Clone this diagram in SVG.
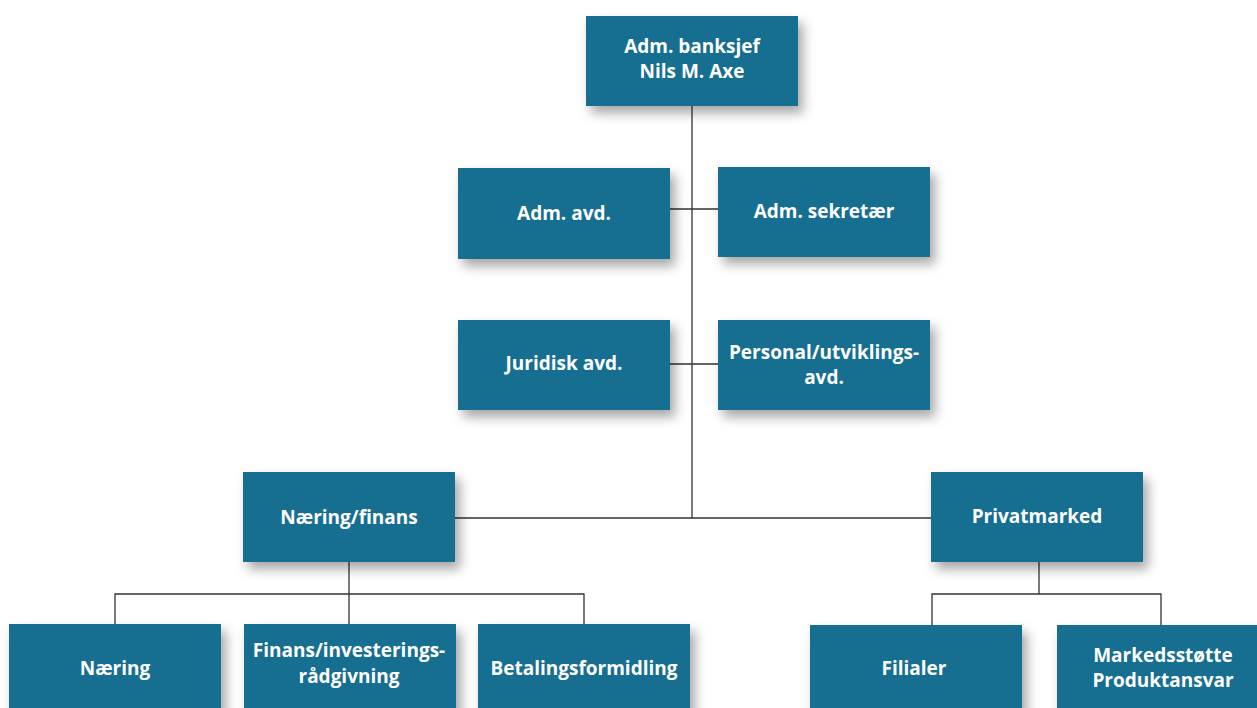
<svg xmlns="http://www.w3.org/2000/svg" width="1257" height="708" viewBox="0 0 1257 708">
<defs>
<filter id="sh" x="-20%" y="-20%" width="150%" height="160%">
<feDropShadow dx="5" dy="7" stdDeviation="6" flood-color="#000" flood-opacity="0.35"/>
</filter>
<style>
.box{fill:#126E91;filter:url(#sh)}
.t{font-family:"Open Sans",Lato,sans-serif;font-weight:bold;font-size:19px;fill:#fff;text-anchor:middle}
.c{stroke:#333;stroke-width:1.3;fill:none}
</style>
</defs>
<rect width="1257" height="708" fill="#fff"/>
<g id="connectors">
<path class="c" d="M692,106V518M670,209H718M670,364H718M455,518H931"/>
<path class="c" d="M349,562V594M115,624V594H584V624M349,594V624"/>
<path class="c" d="M1039,562V594M932,625V594H1161V625"/>
</g>
<g id="ceo"><rect class="box" x="586" y="16" width="212" height="90"/><text class="t" x="692" y="53">Adm. banksjef</text><text class="t" x="692" y="78">Nils M. Axe</text></g>
<g id="admavd"><rect class="box" x="458" y="168" width="212" height="91"/><text class="t" x="564" y="220">Adm. avd.</text></g>
<g id="admsek"><rect class="box" x="718" y="167" width="212" height="90"/><text class="t" x="824" y="218">Adm. sekretær</text></g>
<g id="jur"><rect class="box" x="458" y="320" width="212" height="90"/><text class="t" x="564" y="370">Juridisk avd.</text></g>
<g id="pers"><rect class="box" x="718" y="320" width="212" height="90"/><text class="t" x="824" y="359">Personal/utviklings-</text><text class="t" x="824" y="384">avd.</text></g>
<g id="naeringfinans"><rect class="box" x="243" y="472" width="212" height="90"/><text class="t" x="349" y="524">Næring/finans</text></g>
<g id="privat"><rect class="box" x="931" y="472" width="212" height="90"/><text class="t" x="1037" y="523">Privatmarked</text></g>
<g id="naering"><rect class="box" x="9" y="624" width="212" height="100"/><text class="t" x="115" y="675">Næring</text></g>
<g id="finans"><rect class="box" x="244" y="624" width="212" height="100"/><text class="t" x="349" y="657">Finans/investerings-</text><text class="t" x="349" y="683">rådgivning</text></g>
<g id="betaling"><rect class="box" x="478" y="624" width="212" height="100"/><text class="t" x="584" y="675">Betalingsformidling</text></g>
<g id="filialer"><rect class="box" x="810" y="625" width="212" height="100"/><text class="t" x="914" y="675">Filialer</text></g>
<g id="marked"><rect class="box" x="1057" y="625" width="212" height="100"/><text class="t" x="1163" y="662">Markedsstøtte</text><text class="t" x="1163" y="687">Produktansvar</text></g>
</svg>
